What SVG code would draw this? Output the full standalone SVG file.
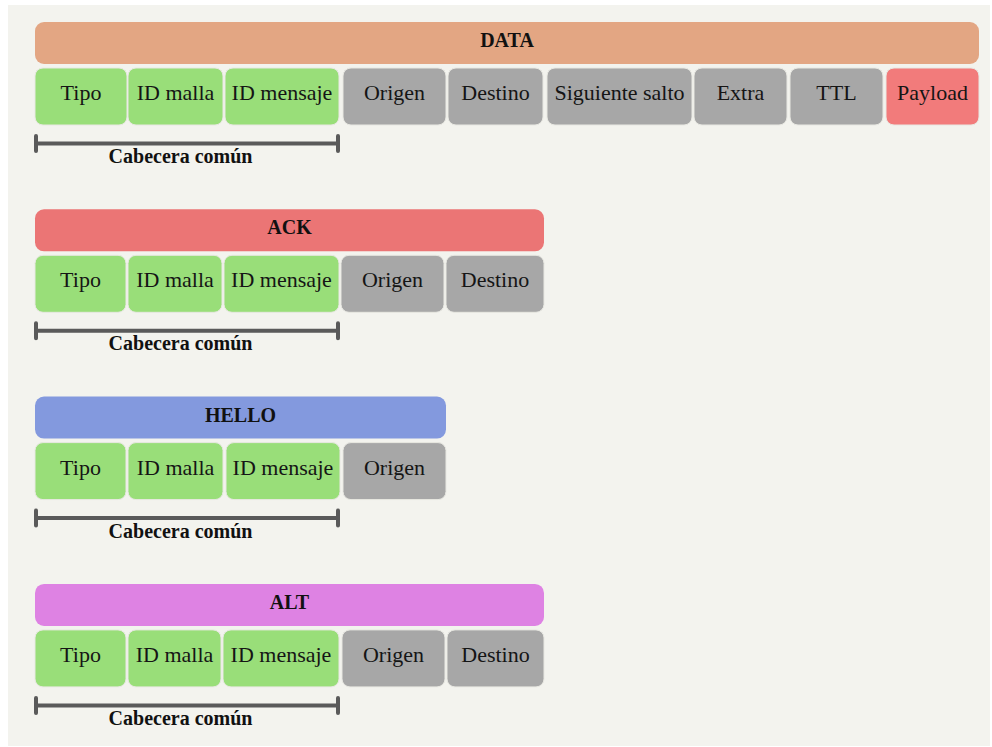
<svg xmlns="http://www.w3.org/2000/svg" width="992" height="747" viewBox="0 0 992 747">
  <defs>
    <style>
      .hdr { stroke: none; }
      .cell { stroke: #e8e8e2; stroke-width: 1; }
      .green { fill: #99de79; }
      .gray { fill: #a7a7a7; }
      .pay { fill: #f27b7b; }
      text { font-family: 'Liberation Serif', 'DejaVu Serif', serif; }
      .lbl { font-size: 22px; fill: #151515; text-anchor: middle; }
      .title { font-size: 20px; font-weight: bold; fill: #111; text-anchor: middle; }
      .brk { stroke: #5a5a5a; stroke-width: 4; stroke-linecap: round; fill: none; }
      .cap { font-size: 20px; font-weight: bold; fill: #111; text-anchor: middle; }
    </style>
  </defs>

  <rect x="0" y="0" width="992" height="747" fill="#ffffff"/>
  <rect x="8" y="5" width="982" height="741" fill="#f3f3ee"/>

  <!-- DATA frame -->
  <g id="data" font-family="Liberation Serif, serif">
    <rect class="hdr" x="35" y="22" width="944" height="42" rx="9" fill="#e3a683"/>
    <text class="title" x="507" y="47">DATA</text>
    <rect class="cell green" x="35" y="68" width="92" height="57" rx="8"/>
    <text class="lbl" x="81" y="100">Tipo</text>
    <rect class="cell green" x="128" y="68" width="95" height="57" rx="8"/>
    <text class="lbl" x="175.5" y="100">ID malla</text>
    <rect class="cell green" x="225" y="68" width="114" height="57" rx="8"/>
    <text class="lbl" x="282" y="100">ID mensaje</text>
    <rect class="cell gray" x="343" y="68" width="103" height="57" rx="8"/>
    <text class="lbl" x="394.5" y="100">Origen</text>
    <rect class="cell gray" x="448" y="68" width="95" height="57" rx="8"/>
    <text class="lbl" x="495.5" y="100">Destino</text>
    <rect class="cell gray" x="547" y="68" width="145" height="57" rx="8"/>
    <text class="lbl" x="619.5" y="100">Siguiente salto</text>
    <rect class="cell gray" x="694" y="68" width="93" height="57" rx="8"/>
    <text class="lbl" x="740.5" y="100">Extra</text>
    <rect class="cell gray" x="790" y="68" width="93" height="57" rx="8"/>
    <text class="lbl" x="836.5" y="100">TTL</text>
    <rect class="cell pay" x="886" y="68" width="93" height="57" rx="8"/>
    <text class="lbl" x="932.5" y="100">Payload</text>
  </g>

  <!-- ACK frame -->
  <g id="ack" transform="translate(0,187.3)">
    <rect class="hdr" x="35" y="22" width="509" height="42" rx="9" fill="#eb7575"/>
    <text class="title" x="289.5" y="47">ACK</text>
    <rect class="cell green" x="35" y="68" width="91" height="57" rx="8"/>
    <text class="lbl" x="80.5" y="100">Tipo</text>
    <rect class="cell green" x="128" y="68" width="94" height="57" rx="8"/>
    <text class="lbl" x="175" y="100">ID malla</text>
    <rect class="cell green" x="224" y="68" width="115" height="57" rx="8"/>
    <text class="lbl" x="281.5" y="100">ID mensaje</text>
    <rect class="cell gray" x="341" y="68" width="103" height="57" rx="8"/>
    <text class="lbl" x="392.5" y="100">Origen</text>
    <rect class="cell gray" x="446" y="68" width="98" height="57" rx="8"/>
    <text class="lbl" x="495" y="100">Destino</text>
  </g>

  <!-- HELLO frame -->
  <g id="hello" transform="translate(0,374.6)">
    <rect class="hdr" x="35" y="22" width="411" height="42" rx="9" fill="#8399de"/>
    <text class="title" x="240.5" y="47">HELLO</text>
    <rect class="cell green" x="35" y="68" width="91" height="57" rx="8"/>
    <text class="lbl" x="80.5" y="100">Tipo</text>
    <rect class="cell green" x="128" y="68" width="95" height="57" rx="8"/>
    <text class="lbl" x="175.5" y="100">ID malla</text>
    <rect class="cell green" x="226" y="68" width="114" height="57" rx="8"/>
    <text class="lbl" x="283" y="100">ID mensaje</text>
    <rect class="cell gray" x="343" y="68" width="103" height="57" rx="8"/>
    <text class="lbl" x="394.5" y="100">Origen</text>
  </g>

  <!-- ALT frame -->
  <g id="alt" transform="translate(0,561.9)">
    <rect class="hdr" x="35" y="22" width="509" height="42" rx="9" fill="#de82e3"/>
    <text class="title" x="289.5" y="47">ALT</text>
    <rect class="cell green" x="35" y="68" width="91" height="57" rx="8"/>
    <text class="lbl" x="80.5" y="100">Tipo</text>
    <rect class="cell green" x="128" y="68" width="93" height="57" rx="8"/>
    <text class="lbl" x="174.5" y="100">ID malla</text>
    <rect class="cell green" x="223" y="68" width="116" height="57" rx="8"/>
    <text class="lbl" x="281" y="100">ID mensaje</text>
    <rect class="cell gray" x="342" y="68" width="103" height="57" rx="8"/>
    <text class="lbl" x="393.5" y="100">Origen</text>
    <rect class="cell gray" x="447" y="68" width="97" height="57" rx="8"/>
    <text class="lbl" x="495.5" y="100">Destino</text>
  </g>

  <!-- common-header brackets -->
  <g id="brackets">
    <g id="bracket-data">
      <path class="brk" d="M36 143.5 H338 M36 136 V151 M338 136 V151"/>
      <text class="cap" x="180.5" y="163">Cabecera común</text>
    </g>
    <g id="bracket-ack" transform="translate(0,187.3)">
      <path class="brk" d="M36 143.5 H338 M36 136 V151 M338 136 V151"/>
      <text class="cap" x="180.5" y="163">Cabecera común</text>
    </g>
    <g id="bracket-hello" transform="translate(0,374.6)">
      <path class="brk" d="M36 143.5 H338 M36 136 V151 M338 136 V151"/>
      <text class="cap" x="180.5" y="163">Cabecera común</text>
    </g>
    <g id="bracket-alt" transform="translate(0,561.9)">
      <path class="brk" d="M36 143.5 H338 M36 136 V151 M338 136 V151"/>
      <text class="cap" x="180.5" y="163">Cabecera común</text>
    </g>
  </g>
</svg>
